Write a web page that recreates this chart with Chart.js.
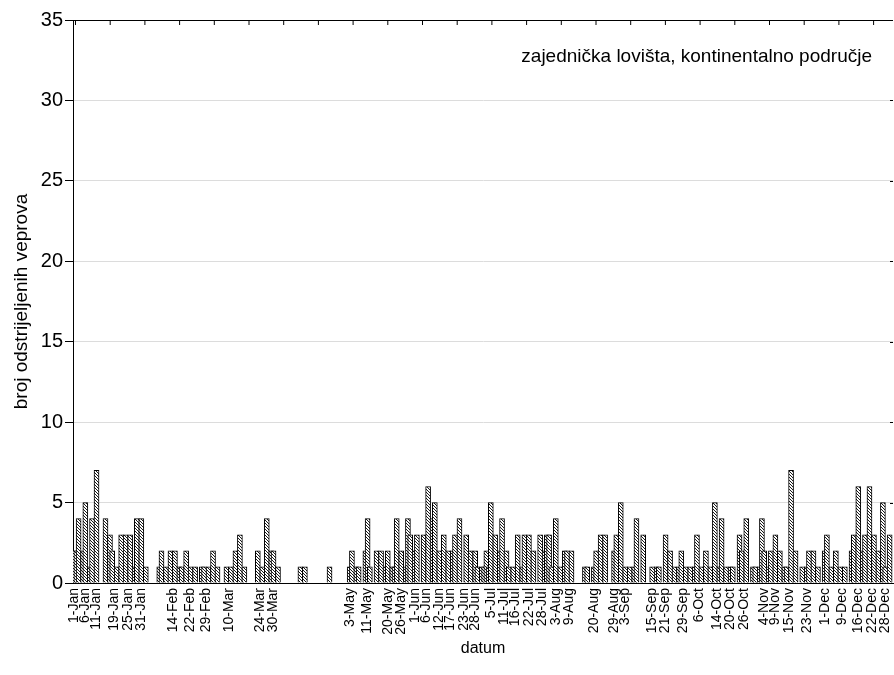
<!DOCTYPE html>
<html>
<head>
<meta charset="utf-8">
<script src="https://cdn.jsdelivr.net/npm/chart.js@4.4.0/dist/chart.umd.min.js"></script>
<style>
  body { margin: 0; background: #fff; }
  canvas { display: block; }
</style>
</head>
<body>
<canvas id="barchart" width="894" height="675"></canvas>
<script>
// days with shot boars and the number shot on that day
var shotDates = [
  '1-Jan','2-Jan','3-Jan','5-Jan','6-Jan','8-Jan','9-Jan','11-Jan','15-Jan','17-Jan','18-Jan','20-Jan',
  '22-Jan','24-Jan','26-Jan','28-Jan','29-Jan','31-Jan',
  '2-Feb','8-Feb','9-Feb','11-Feb','13-Feb','15-Feb','17-Feb','18-Feb','20-Feb','22-Feb','24-Feb','27-Feb','28-Feb',
  '1-Mar','3-Mar','5-Mar','9-Mar','11-Mar','13-Mar','15-Mar','17-Mar','23-Mar','25-Mar','27-Mar','29-Mar','30-Mar',
  '1-Apr','11-Apr','13-Apr','24-Apr',
  '3-May','4-May','6-May','7-May','10-May','11-May','12-May','15-May','17-May','19-May','20-May','22-May',
  '23-May','24-May','26-May','28-May','29-May','30-May',
  '1-Jun','2-Jun','5-Jun','7-Jun','9-Jun','10-Jun','12-Jun','14-Jun','16-Jun','18-Jun','19-Jun','21-Jun',
  '24-Jun','26-Jun','28-Jun','29-Jun',
  '1-Jul','2-Jul','3-Jul','4-Jul','5-Jul','7-Jul','9-Jul','10-Jul','12-Jul','13-Jul','15-Jul','17-Jul',
  '19-Jul','20-Jul','22-Jul','24-Jul','27-Jul','29-Jul','30-Jul','31-Jul',
  '1-Aug','3-Aug','5-Aug','7-Aug','8-Aug','10-Aug','16-Aug','17-Aug','20-Aug','21-Aug','23-Aug','25-Aug','29-Aug','30-Aug',
  '1-Sep','3-Sep','5-Sep','7-Sep','8-Sep','11-Sep','15-Sep','17-Sep','18-Sep','21-Sep','23-Sep','25-Sep',
  '27-Sep','28-Sep','30-Sep',
  '2-Oct','4-Oct','5-Oct','7-Oct','9-Oct','11-Oct','13-Oct','15-Oct','16-Oct','18-Oct','20-Oct','21-Oct',
  '24-Oct','25-Oct','27-Oct','30-Oct','31-Oct',
  '2-Nov','3-Nov','4-Nov','6-Nov','7-Nov','9-Nov','11-Nov','13-Nov','14-Nov','16-Nov','18-Nov','21-Nov',
  '23-Nov','24-Nov','26-Nov','28-Nov',
  '1-Dec','2-Dec','4-Dec','6-Dec','8-Dec','10-Dec','13-Dec','14-Dec','16-Dec','18-Dec','19-Dec','21-Dec',
  '23-Dec','25-Dec','27-Dec','28-Dec','30-Dec'
]
var shotCounts = [
  2,2,4,2,5,1,4,7,4,3,2,1,
  3,3,3,1,4,4,
  1,1,2,1,2,2,1,1,2,1,1,1,1,
  1,2,1,1,1,2,3,1,2,1,4,2,2,
  1,1,1,1,
  1,2,1,1,2,4,1,2,2,1,2,1,
  1,4,2,1,4,3,
  2,3,3,6,4,5,2,3,2,2,3,4,
  3,2,2,1,
  1,1,2,1,5,3,2,4,2,1,1,3,
  1,3,3,2,3,2,3,3,
  1,4,1,2,2,2,1,1,1,2,3,3,2,3,
  5,1,1,1,4,3,1,1,1,3,2,1,
  1,2,1,
  1,1,3,1,2,1,5,1,4,1,1,1,
  3,2,4,1,1,
  1,4,2,1,2,3,2,1,1,7,2,1,
  1,2,2,1,
  2,3,1,2,1,1,2,3,6,2,3,6,
  3,2,5,1,3
]
var tickLabels = [
  '1-Jan','6-Jan','11-Jan','19-Jan','25-Jan','31-Jan','14-Feb','22-Feb','29-Feb','10-Mar','24-Mar','30-Mar',
  '3-May','11-May','20-May','26-May','1-Jun','6-Jun','12-Jun','17-Jun','23-Jun','28-Jun',
  '5-Jul','11-Jul','16-Jul','22-Jul','28-Jul','3-Aug','9-Aug','20-Aug','29-Aug','3-Sep',
  '15-Sep','21-Sep','29-Sep','6-Oct','14-Oct','20-Oct','26-Oct','4-Nov','9-Nov','15-Nov','23-Nov',
  '1-Dec','9-Dec','16-Dec','22-Dec','28-Dec'
]
var months = ['Jan','Feb','Mar','Apr','May','Jun','Jul','Aug','Sep','Oct','Nov','Dec']
var monthLength = [31,29,31,30,31,30,31,31,30,31,30,31]
var yMax = 35
var yStep = 5
var noteText = 'zajednička lovišta, kontinentalno područje'

// every day of the (leap) year is one category
var allDays = []
for (var m = 0; m < 12; m++) {
  for (var d = 1; d <= monthLength[m]; d++) allDays.push(d + '-' + months[m])
}
var dailyCounts = allDays.map(function (day) {
  var i = shotDates.indexOf(day)
  return i >= 0 ? shotCounts[i] : null
})

function hatchPattern() {
  var c = document.createElement('canvas')
  c.width = 3; c.height = 3
  var g = c.getContext('2d')
  g.fillStyle = '#fff'
  g.fillRect(0, 0, 3, 3)
  g.strokeStyle = '#000'
  g.lineWidth = 0.9
  g.beginPath()
  g.moveTo(-1, -1); g.lineTo(4, 4)
  g.moveTo(-1, 2); g.lineTo(1, 4)
  g.moveTo(2, -1); g.lineTo(4, 1)
  g.stroke()
  return g.createPattern(c, 'repeat')
}

// frame on top / right and the text in the corner
var framePlugin = {
  id: 'frame',
  afterDraw: function (chart) {
    var ctx = chart.ctx, a = chart.chartArea, y = chart.scales.y
    ctx.save()
    ctx.strokeStyle = '#000'
    ctx.lineWidth = 1
    ctx.beginPath()
    ctx.moveTo(a.left, a.top + 0.5); ctx.lineTo(a.right, a.top + 0.5)
    for (var x = a.left + 2.5; x < a.right; x += 34.7) {
      ctx.moveTo(x, a.top); ctx.lineTo(x, a.top + 5)
    }
    for (var v = yStep; v < yMax; v += yStep) {
      var py = Math.round(y.getPixelForValue(v)) + 0.5
      ctx.moveTo(a.right - 3, py); ctx.lineTo(a.right, py)
    }
    ctx.stroke()
    ctx.fillStyle = '#000'
    ctx.font = '19px "Liberation Sans", Arial, sans-serif'
    ctx.textAlign = 'right'
    ctx.textBaseline = 'middle'
    ctx.fillText(noteText, a.right - 21, a.top + 37)
    ctx.restore()
  }
}

Chart.defaults.font.family = '"Liberation Sans", Arial, sans-serif'
Chart.defaults.color = '#000'

new Chart('barchart', {
  type: 'bar',
  data: {
    labels: allDays,
    datasets: [{
      data: dailyCounts,
      backgroundColor: hatchPattern(),
      borderColor: '#000',
      borderWidth: 1,
      barThickness: 5
    }]
  },
  options: {
    responsive: false,
    animation: false,
    layout: { padding: { top: 20, right: 1, left: 0, bottom: 0 } },
    plugins: { legend: { display: false }, tooltip: { enabled: false } },
    scales: {
      x: {
        grid: { display: false, drawTicks: false },
        border: { color: '#000', width: 1 },
        ticks: {
          autoSkip: false,
          minRotation: 90,
          maxRotation: 90,
          padding: 5,
          font: { size: 14 },
          callback: function (value) {
            var l = this.getLabelForValue(value)
            return tickLabels.indexOf(l) >= 0 ? l : ''
          }
        },
        title: { display: true, text: 'datum', font: { size: 16 }, padding: { top: 0, bottom: 17 } },
        afterFit: function (scale) {
          scale.height = 92
          scale.paddingLeft = 0
          scale.paddingRight = 0
        }
      },
      y: {
        min: 0,
        max: yMax,
        ticks: { stepSize: yStep, font: { size: 20 }, padding: 2 },
        grid: { color: '#dcdcdc', tickColor: '#000', tickLength: 8 },
        border: { color: '#000', width: 1 },
        title: { display: true, text: 'broj odstrijeljenih veprova', font: { size: 19 }, padding: { top: 10, bottom: 0 } },
        afterFit: function (scale) {
          scale.width = 73
          scale.paddingTop = 0
          scale.paddingBottom = 0
        }
      }
    }
  },
  plugins: [framePlugin]
})
</script>
</body>
</html>
